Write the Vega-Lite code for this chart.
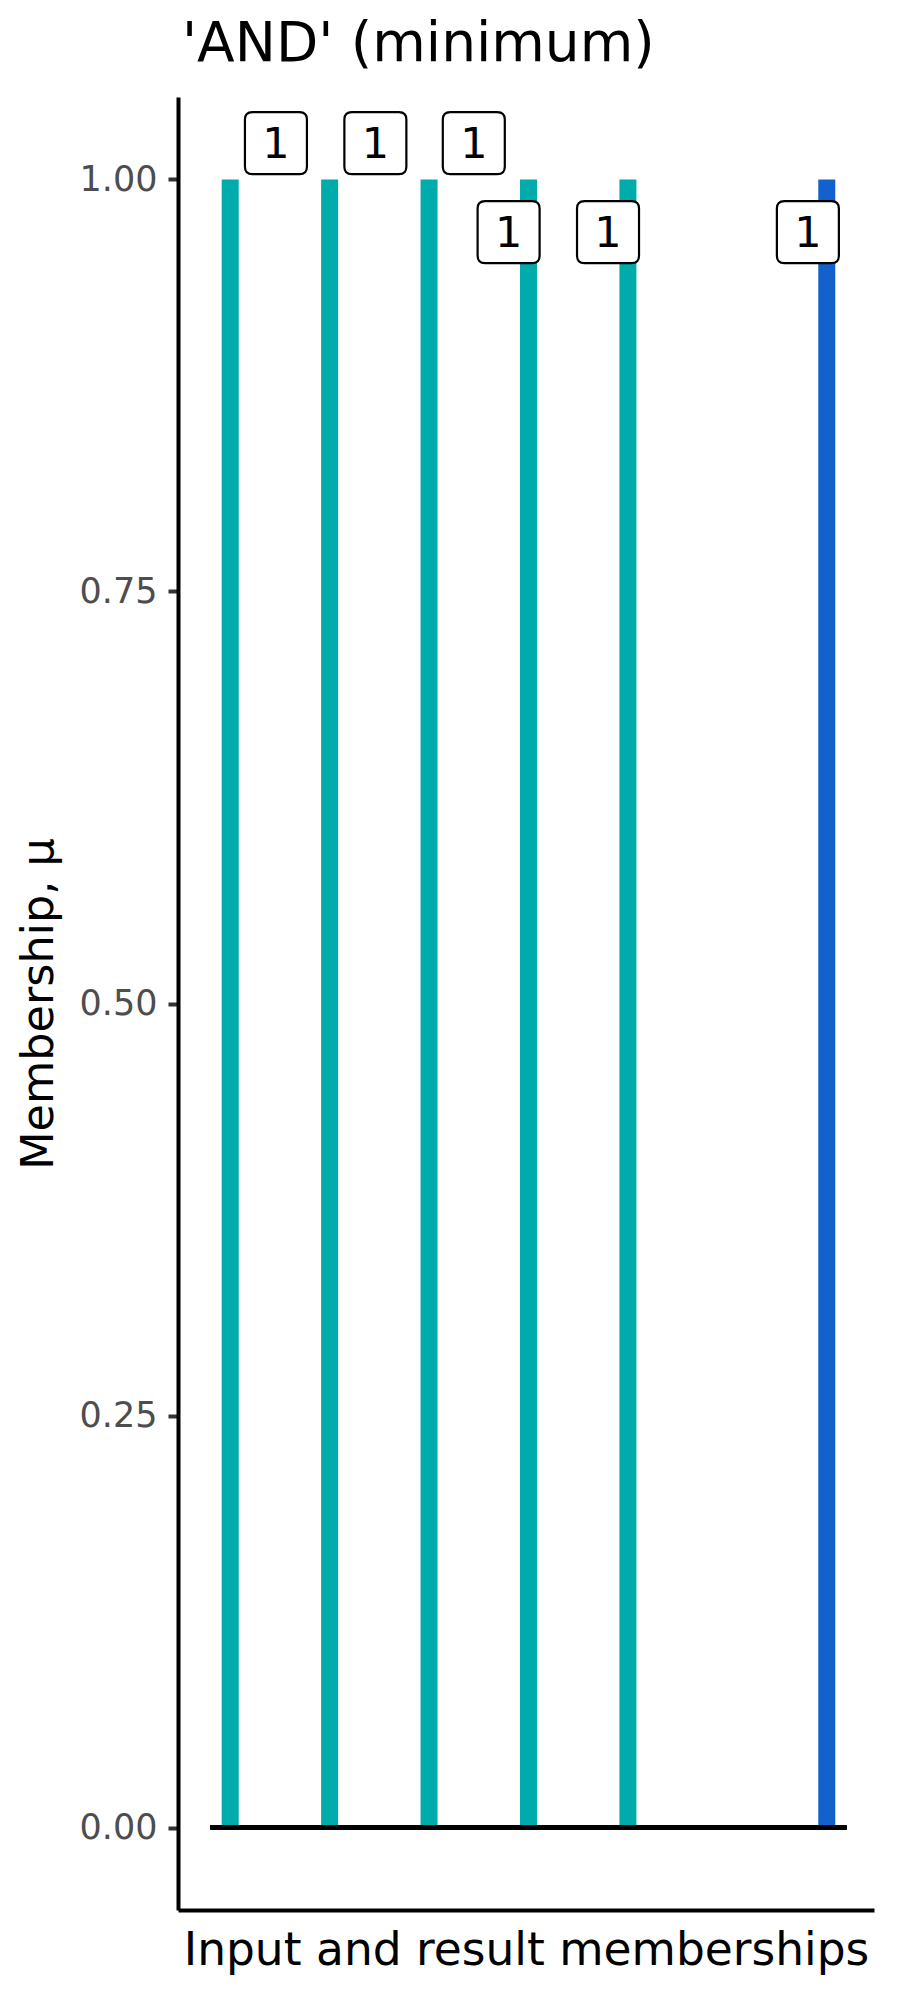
{
  "$schema": "https://vega.github.io/schema/vega-lite/v6.json",
  "width": 696,
  "height": 1813,
  "autosize": {"type": "none"},
  "padding": {"left": 178, "top": 97, "right": 26, "bottom": 90},
  "background": "white",
  "config": {
    "font": "DejaVu Sans",
    "view": {"stroke": null},
    "axis": {"grid": false}
  },
  "title": {
    "text": "'AND' (minimum)",
    "anchor": "start",
    "frame": "group",
    "fontSize": 55,
    "fontWeight": "normal",
    "color": "black",
    "offset": 24,
    "dx": 4
  },
  "data": {
    "values": [
      {"item": 1, "mu": 1, "type": "input", "label": "1", "lx": 1.46, "ly": 1.022},
      {"item": 2, "mu": 1, "type": "input", "label": "1", "lx": 2.46, "ly": 1.022},
      {"item": 3, "mu": 1, "type": "input", "label": "1", "lx": 3.45, "ly": 1.022},
      {"item": 4, "mu": 1, "type": "input", "label": "1", "lx": 3.8, "ly": 0.968},
      {"item": 5, "mu": 1, "type": "input", "label": "1", "lx": 4.8, "ly": 0.968},
      {"item": 7, "mu": 1, "type": "result", "label": "1", "lx": 6.81, "ly": 0.968}
    ]
  },
  "layer": [
    {
      "mark": {"type": "rule", "strokeWidth": 17, "strokeCap": "butt"},
      "encoding": {
        "x": {
          "field": "item", "type": "quantitative",
          "scale": {"domain": [0.475, 7.475], "nice": false, "zero": false},
          "axis": {
            "title": "Input and result memberships",
            "labels": false, "ticks": false,
            "domainColor": "black", "domainWidth": 4,
            "titleFontSize": 45.5, "titleFontWeight": "normal", "titleColor": "black",
            "titlePadding": 18
          }
        },
        "y": {
          "field": "mu", "type": "quantitative",
          "scale": {"domain": [-0.05, 1.05], "nice": false, "zero": false},
          "axis": {
            "title": "Membership, μ",
            "values": [0, 0.25, 0.5, 0.75, 1],
            "format": ".2f",
            "domainColor": "black", "domainWidth": 4,
            "tickColor": "#333333", "tickWidth": 4, "tickSize": 10,
            "labelColor": "#4D4D4D", "labelFontSize": 35, "labelPadding": 11,
            "titleFontSize": 44.5, "titleFontWeight": "normal", "titleColor": "black",
            "titlePadding": 18
          }
        },
        "y2": {"datum": 0},
        "color": {
          "field": "type", "type": "nominal",
          "scale": {"domain": ["input", "result"], "range": ["#00ABAB", "#1261CC"]},
          "legend": null
        }
      }
    },
    {
      "mark": {"type": "rule", "strokeWidth": 4, "color": "black"},
      "encoding": {
        "x": {"datum": 0.8, "type": "quantitative"},
        "x2": {"datum": 7.2},
        "y": {"datum": 0, "type": "quantitative"}
      }
    },
    {
      "mark": {
        "type": "point",
        "shape": "M-0.76,-1 L0.76,-1 Q1,-1 1,-0.76 L1,0.76 Q1,1 0.76,1 L-0.76,1 Q-1,1 -1,0.76 L-1,-0.76 Q-1,-1 -0.76,-1 Z",
        "size": 3844,
        "filled": true,
        "fill": "white",
        "stroke": "black",
        "strokeWidth": 2.2,
        "opacity": 1
      },
      "encoding": {
        "x": {"field": "lx", "type": "quantitative"},
        "y": {"field": "ly", "type": "quantitative"}
      }
    },
    {
      "mark": {"type": "text", "fontSize": 43, "color": "black", "baseline": "middle", "align": "center", "dy": 2},
      "encoding": {
        "x": {"field": "lx", "type": "quantitative"},
        "y": {"field": "ly", "type": "quantitative"},
        "text": {"field": "label"}
      }
    }
  ]
}
